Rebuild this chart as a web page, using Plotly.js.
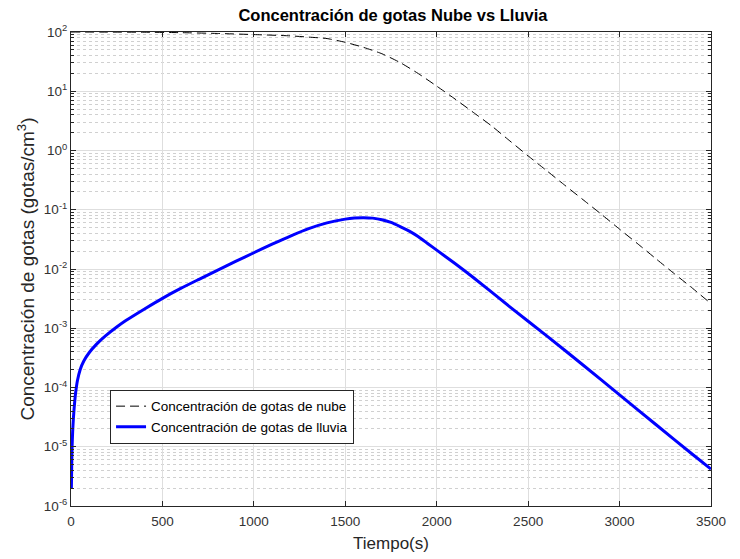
<!DOCTYPE html>
<html>
<head>
<meta charset="utf-8">
<script src="https://cdn.plot.ly/plotly-3.0.1.min.js"></script>
<style>
  html, body { margin: 0; padding: 0; background: #ffffff; }
  #chart { width: 740px; height: 559px; }
</style>
</head>
<body>
<div id="chart"></div>
<script>
// Tiempo (s) y concentración de gotas de nube (gotas/cm^3)
const tiempoNube = [0, 200, 400, 600, 800, 1000, 1200, 1300, 1400, 1500, 1600, 1700, 1800, 1900, 2000,
  2100, 2200, 2300, 2400, 2500, 2600, 2700, 2800, 2900, 3000, 3100, 3200, 3300, 3400, 3500];
const concNube = [100, 99.6, 99.2, 97.5, 94.5, 90.5, 86, 82, 77.5, 67, 55, 43, 30.5, 19.8, 12.2,
  7.4, 4.4, 2.6, 1.45, 0.81, 0.46, 0.26, 0.148, 0.084, 0.047, 0.0265, 0.0148, 0.0083, 0.0047, 0.0026];

// Tiempo (s) y concentración de gotas de lluvia (gotas/cm^3)
const tiempoLluvia = [2, 4, 6, 9, 13, 18, 25, 35, 50, 70, 100, 140, 190, 250, 300, 400, 500, 600,
  700, 800, 900, 1000, 1100, 1200, 1300, 1400, 1500, 1550, 1600, 1650, 1700, 1750, 1800, 1850,
  1900, 1950, 2000, 2100, 2200, 2400, 2600, 2800, 3000, 3200, 3400, 3500];
const concLluvia = [2e-6, 5e-6, 1e-5, 1.8e-5, 3e-5, 4.8e-5, 8e-5, 1.3e-4, 2e-4, 2.8e-4, 3.9e-4,
  5.4e-4, 7.5e-4, 1.05e-3, 1.35e-3, 2.1e-3, 3.2e-3, 4.7e-3,
  6.7e-3, 9.5e-3, 1.34e-2, 1.88e-2, 2.62e-2, 3.6e-2, 4.8e-2, 6.0e-2, 6.95e-2, 7.25e-2, 7.35e-2,
  7.22e-2, 6.8e-2, 6.1e-2, 5.2e-2, 4.35e-2, 3.5e-2, 2.7e-2, 2.08e-2, 1.24e-2, 7.2e-3, 2.3e-3,
  7.5e-4, 2.4e-4, 7.5e-5, 2.35e-5, 7.4e-6, 4.2e-6];

// Marcas del eje y (décadas) y del eje x
const decadas = [-6, -5, -4, -3, -2, -1, 0, 1, 2];
const ticksX = [0, 500, 1000, 1500, 2000, 2500, 3000, 3500];

const yTickVals = decadas.map(d => Math.pow(10, d));
const yTickText = decadas.map(d => '10<sup>' + d + '</sup>');
const yMinorVals = [];
decadas.slice(0, -1).forEach(d => {
  for (let k = 2; k <= 9; k++) yMinorVals.push(k * Math.pow(10, d));
});

const axisColor = '#262626';
const fontFamily = '"Liberation Sans", Arial, sans-serif';

const traces = [
  {
    x: tiempoNube, y: concNube, type: 'scatter', mode: 'lines',
    name: 'Concentración de gotas de nube',
    line: { color: '#000000', width: 1, dash: '9px,5px', shape: 'spline', smoothing: 0.6 }
  },
  {
    x: tiempoLluvia, y: concLluvia, type: 'scatter', mode: 'lines',
    name: 'Concentración de gotas de lluvia',
    line: { color: '#0000ff', width: 3, shape: 'spline', smoothing: 0.6 }
  }
];

const layout = {
  width: 740, height: 559,
  paper_bgcolor: '#ffffff', plot_bgcolor: '#ffffff',
  margin: { l: 71, r: 29, t: 32, b: 53 },
  font: { family: fontFamily, color: axisColor, size: 13 },
  title: {
    text: '<b>Concentración de gotas Nube vs Lluvia</b>',
    font: { family: fontFamily, size: 16.5, color: '#000000' },
    x: 0.531, xanchor: 'center', y: 0.972, yanchor: 'middle'
  },
  xaxis: {
    range: [0, 3500],
    tickvals: ticksX,
    ticktext: ticksX.map(String),
    ticks: 'inside', ticklen: 5, tickcolor: axisColor,
    showline: true, linecolor: axisColor, linewidth: 1, mirror: 'ticks',
    showgrid: true, gridcolor: '#dedede', gridwidth: 1,
    zeroline: false,
    ticklabelstandoff: 3,
    tickfont: { size: 13.5, color: '#333333' },
    title: { text: 'Tiempo(s)', font: { size: 17, color: '#262626' }, standoff: 8 }
  },
  yaxis: {
    type: 'log',
    range: [-6, 2],
    tickvals: yTickVals,
    ticktext: yTickText,
    ticks: 'inside', ticklen: 5, tickcolor: axisColor,
    showline: true, linecolor: axisColor, linewidth: 1, mirror: 'ticks',
    showgrid: true, gridcolor: '#dedede', gridwidth: 1,
    zeroline: false,
    tickfont: { size: 13.5, color: '#333333' },
    minor: {
      tickvals: yMinorVals,
      ticks: 'inside', ticklen: 3, tickcolor: axisColor,
      showgrid: true, gridcolor: '#d0d0d0', griddash: 'dot', gridwidth: 1
    },
    title: {
      text: 'Concentración de gotas (gotas/cm<sup>3</sup>)',
      font: { size: 19, color: '#262626' }, standoff: 4
    }
  },
  legend: {
    x: 0.061, y: 0.245, xanchor: 'left', yanchor: 'top',
    bgcolor: '#ffffff', bordercolor: '#262626', borderwidth: 1,
    font: { size: 13.5, color: '#000000' },
    tracegroupgap: 0
  },
  showlegend: true
};

Plotly.newPlot('chart', traces, layout, { displayModeBar: false, staticPlot: true });
</script>
</body>
</html>
